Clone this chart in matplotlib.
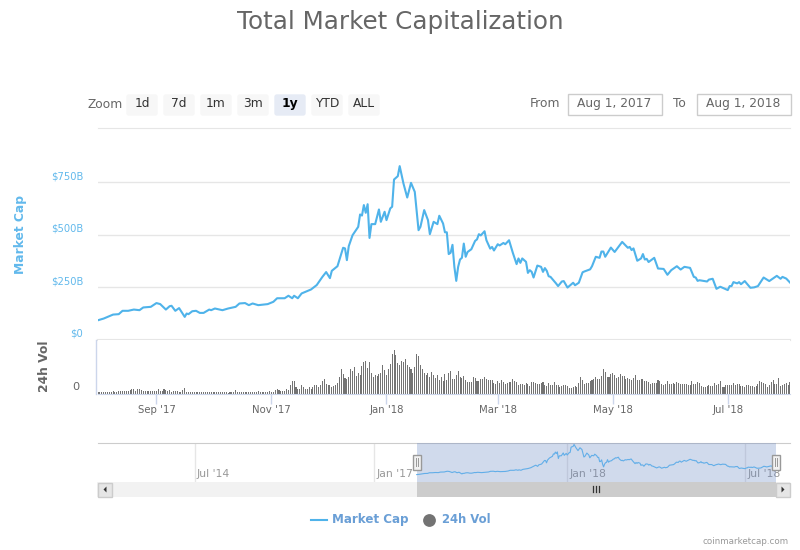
import numpy as np
import pandas as pd
import matplotlib
matplotlib.use("Agg")
import matplotlib.pyplot as plt
from matplotlib.patches import Rectangle, FancyBboxPatch, Polygon
from matplotlib.transforms import ScaledTranslation

W, H = 800, 550
start = pd.Timestamp("2017-08-01")

# days since Aug 1 2017, market cap in $B
cap_days = [0, 3, 8, 11, 13, 16, 19, 22, 24, 28, 31, 33, 36, 38, 39, 41, 43, 46, 47, 48, 50, 52, 54, 56, 59, 60, 62, 66, 69, 73,
            75, 78, 80, 82, 85, 90, 93, 95, 99, 101, 103, 104, 106, 108, 113, 116, 119, 121, 123, 124, 127, 130, 131, 132, 133, 135, 138, 139, 140, 141,
            142, 143, 144, 145, 147, 149, 150, 152, 153, 155, 156, 157, 159, 160, 162, 164, 166, 168, 170, 171, 173, 175, 176, 178, 180, 181, 183, 184, 185, 186,
            187, 188, 189, 190, 191, 192, 193, 194, 195, 196, 198, 200, 201, 202, 203, 205, 206, 208, 209, 210, 212, 213, 215, 216, 218, 220, 222, 223, 224, 225,
            227, 228, 229, 230, 231, 233, 235, 236, 237, 238, 239, 240, 243, 244, 246, 247, 249, 252, 253, 255, 257, 258, 261, 262, 264, 266, 267, 268, 269, 272,
            274, 278, 281, 282, 283, 284, 286, 288, 289, 290, 291, 292, 295, 297, 300, 302, 304, 307, 309, 311, 314, 316, 317, 318, 319, 323, 324, 326, 328, 330,
            334, 335, 336, 337, 339, 340, 341, 343, 344, 346, 348, 350, 353, 356, 360, 362, 363, 365, 367]
cap_values = [92, 100, 119, 121, 137, 137, 143, 140, 153, 156, 174, 169, 143, 159, 161, 137, 150, 108, 124, 121, 135, 137, 127, 127, 143, 140, 148, 140, 148, 156,
              172, 174, 164, 172, 164, 169, 180, 197, 197, 209, 197, 209, 197, 220, 239, 260, 299, 322, 293, 328, 350, 438, 435, 379, 446, 498, 538, 597, 592, 642,
              605, 646, 485, 551, 551, 621, 562, 610, 570, 626, 634, 764, 780, 828, 745, 678, 748, 705, 522, 538, 618, 570, 503, 562, 551, 591, 554, 512, 512, 408,
              414, 452, 347, 280, 347, 382, 390, 458, 395, 418, 431, 471, 478, 503, 497, 517, 474, 434, 442, 425, 455, 449, 461, 455, 474, 414, 360, 387, 366, 387,
              371, 318, 331, 323, 296, 353, 347, 323, 341, 328, 302, 299, 267, 255, 277, 279, 248, 271, 259, 271, 321, 325, 335, 350, 395, 390, 420, 420, 395, 439,
              418, 466, 438, 442, 427, 435, 376, 387, 408, 382, 385, 370, 390, 339, 337, 309, 331, 350, 334, 347, 342, 299, 296, 280, 283, 277, 286, 290, 242, 252,
              236, 255, 255, 274, 268, 274, 264, 279, 268, 247, 249, 255, 296, 279, 304, 290, 299, 291, 272]

# daily 24h volume in $B
vol_values = [1.5, 1.5, 1.5, 1.5, 1.5, 2.5, 1.5, 2, 4, 2.5, 2.5, 4, 4, 4, 4, 4, 3, 5, 7, 7, 4, 6.5, 6, 5.5, 4, 3, 3, 3, 4, 4, 4, 4,
              6.5, 4, 3, 6.5, 5, 4, 5.5, 1.5, 3, 3, 3, 2.5, 2.5, 5, 8, 1.5, 2.5, 2.5, 2.5, 1.5, 1.5, 1.5, 1.5, 1.5, 2.5, 2.5, 1.5, 1.5, 1.5,
              1.5, 1.5, 1.5, 2, 1.5, 1.5, 1.5, 1.5, 1, 2.5, 1.5, 1.5, 5, 2, 1.5, 2.5, 2.5, 2.5, 2.5, 1.5, 2.5, 1.5, 2.5, 1.5,
              4, 2.5, 1.5, 1.5, 1.5, 2.5, 4, 1.5, 2.5, 5, 6.5, 5, 3, 4, 4,
              7, 5, 12, 18, 18, 10, 6, 6, 12, 10, 6, 6, 9, 6, 9, 12, 12, 9, 12, 18, 21, 13.5, 12,
              12, 9, 11, 12, 15, 24, 36, 28.5, 22.5, 21, 24, 36, 33, 39, 25.5, 30, 27, 40.5, 46.5, 48, 37.5, 46.5, 30, 24, 27, 25.5,
              28.5, 30, 42, 34.5, 27, 36, 43.5, 58.5, 64.5, 57, 45, 42, 48, 46.5, 51, 42, 39, 36, 30, 39, 58.5, 55.5, 42, 36, 30, 27,
              30, 24, 31.5, 27, 22.5, 27, 19.5, 24, 18, 28.5, 19.5, 30, 33, 21, 21, 27, 33, 24, 22.5, 25.5, 19.5, 16.5, 16.5, 16.5, 24,
              22.5, 18, 18, 21, 21, 24, 21, 19.5, 19.5, 19.5, 15, 13.5, 18, 15, 19.5, 16.5, 13.5, 15, 16.5, 16.5, 21, 18, 16.5, 12, 13.5,
              13.5, 12, 15, 13.5, 10.5, 16.5, 16.5, 15, 13.5, 13.5, 15, 16.5, 12, 10.5, 15, 12, 12, 16.5, 12, 12, 9,
              10.5, 12, 12, 10.5, 7.5, 7.5, 9, 10.5, 9, 15, 24, 19.5, 13.5, 15, 15, 18, 19.5, 21, 24, 21, 21, 25.5, 36, 31.5, 24, 24,
              28.5, 30, 27, 22.5, 24, 28.5, 25.5, 25.5, 21, 22.5, 21, 19.5, 22.5, 27, 19.5, 19.5, 21, 21, 18, 18, 16.5, 13.5, 15, 15,
              15, 19.5, 18, 13.5, 12, 13.5, 18, 13.5, 13.5, 15, 13.5, 16.5, 15, 13.5, 13.5, 13.5, 13.5, 12, 12, 18, 13.5, 13.5, 16.5, 15,
              10.5, 9, 9, 10.5, 12, 10.5, 10.5, 15, 12, 13.5, 18, 9, 9, 12, 12, 12, 12, 15, 12, 13.5, 13.5, 10.5, 10.5, 9, 12, 12, 10.5,
              10.5, 9, 10.5, 13.5, 18, 16.5, 15, 13.5, 9, 12, 16.5, 19.5, 13.5, 13.5, 22.5, 10.5, 12, 13.5, 15, 12, 16.5]

tick_dates = ["2017-09-01", "2017-11-01", "2018-01-01", "2018-03-01", "2018-05-01", "2018-07-01"]
tick_labels = ["Sep '17", "Nov '17", "Jan '18", "Mar '18", "May '18", "Jul '18"]
cap_ticks = [0, 250, 500, 750]
cap_tick_labels = ["$0", "$250B", "$500B", "$750B"]

nav_tick_dates = ["2014-07-01", "2017-01-01", "2018-01-01", "2018-07-01"]
nav_tick_labels = ["Jul '14", "Jan '17", "Jan '18", "Jul '18"]
buttons = ["1d", "7d", "1m", "3m", "1y", "YTD", "ALL"]

BLUE = "#4fb3ea"
LABEL_BLUE = "#62b9ec"
GREY = "#666666"
AXIS = "#ccd6eb"
GRID = "#e6e6e6"
BAR = "#737373"
LEGEND = "#6a9fd6"


def px_axes(fig, x0, y0, x1, y1, **kw):
    return fig.add_axes([x0 / W, 1 - y1 / H, (x1 - x0) / W, (y1 - y0) / H], **kw)


def nav_pos(dates):
    # navigator axis is ordinal: older data is weekly so it gets squeezed
    anchors = pd.to_datetime(["2013-04-28", "2014-07-01", "2017-01-01", "2017-08-01", "2018-08-01", "2018-08-15"])
    return np.interp(pd.to_datetime(dates).astype("int64"), anchors.astype("int64"), [0, 97, 276, 318.7, 677.7, 692])


def nudge_up(labels, fig, px):
    for label in labels:
        label.set_transform(label.get_transform() + ScaledTranslation(0, px / 100, fig.dpi_scale_trans))


cap_dates = start + pd.to_timedelta(cap_days, unit="D")
vol_dates = start + pd.to_timedelta(np.arange(len(vol_values)), unit="D")
ticks = pd.to_datetime(tick_dates)
end = start + pd.Timedelta(days=367)

fig = plt.figure(figsize=(W / 100, H / 100), dpi=100)
plt.rcParams["font.family"] = "DejaVu Sans"

# market cap panel
ax = px_axes(fig, 98, 128, 790, 339.5)
ax.plot(cap_dates, cap_values, color=BLUE, lw=1.5, solid_joinstyle="round", zorder=3)
ax.set_xlim(start, end)
ax.set_ylim(0, 1010)
ax.set_yticks(cap_ticks)
ax.set_yticklabels(cap_tick_labels, color=LABEL_BLUE, fontsize=7.2, va="bottom")
ax.tick_params(axis="y", length=0, pad=10.8)
ax.tick_params(axis="x", bottom=False, labelbottom=False)
ax.grid(axis="y", color=GRID, lw=1)
ax.set_axisbelow(True)
for side in ["left", "right"]:
    ax.spines[side].set_visible(False)
ax.spines["top"].set_color(GRID)
ax.spines["bottom"].set_color(GRID)
ax.spines["bottom"].set_linewidth(1.5)
nudge_up(ax.get_yticklabels(), fig, 1)

# volume panel
ax_vol = px_axes(fig, 98, 340, 790, 393.5)
ax_vol.bar(vol_dates, vol_values, width=0.55, color=BAR, zorder=2)
ax_vol.set_xlim(start, end)
ax_vol.set_ylim(0, 80)
ax_vol.set_yticks([0])
ax_vol.set_yticklabels(["0"], color=GREY, fontsize=8.2, va="bottom")
ax_vol.tick_params(axis="y", length=0, pad=13)
ax_vol.set_xticks(ticks)
ax_vol.set_xticklabels(tick_labels, color=GREY, fontsize=7.3)
ax_vol.tick_params(axis="x", length=7, width=1, color=AXIS, pad=1.5)
for side in ["top", "right", "left"]:
    ax_vol.spines[side].set_visible(False)
ax_vol.spines["bottom"].set_color(AXIS)
nudge_up(ax_vol.get_yticklabels(), fig, 2)

# navigator
ax_nav = px_axes(fig, 98, 442.5, 790, 482)
ax_nav.set_xlim(0, 692)
ax_nav.set_ylim(-89, 876)
ax_nav.axvspan(nav_pos([start])[0], nav_pos([start + pd.Timedelta(days=365)])[0], color="#6685c2", alpha=0.3, lw=0, zorder=3)
ax_nav.plot(nav_pos(cap_dates), cap_values, color="#62aee8", lw=0.8, zorder=4)
nav_ticks = nav_pos(nav_tick_dates)
ax_nav.set_xticks(nav_ticks)
ax_nav.tick_params(axis="both", length=0, labelbottom=False, labelleft=False)
ax_nav.set_yticks([])
ax_nav.grid(axis="x", color=GRID, lw=1, zorder=1)
ax_nav.set_axisbelow(True)
for pos, label in zip(nav_ticks, nav_tick_labels):
    ax_nav.text(pos + 2, 109, label, color="#999999", fontsize=7.8, ha="left", va="center", zorder=2)
for side in ["left", "right", "bottom"]:
    ax_nav.spines[side].set_visible(False)
ax_nav.spines["top"].set_color("#cccccc")

# everything else is page furniture, drawn in pixel coords
ui = fig.add_axes([0, 0, 1, 1], zorder=10)
ui.set_xlim(0, W)
ui.set_ylim(H, 0)
ui.axis("off")
ui.patch.set_alpha(0)

ui.text(400, 22, "Total Market Capitalization", color=GREY, fontsize=17.75, ha="center", va="center")
ui.text(21, 235, "Market Cap", color=LABEL_BLUE, fontsize=8.8, rotation=90, ha="center", va="center", fontweight="bold")
ui.text(44, 366, "24h Vol", color=GREY, fontsize=8.8, rotation=90, ha="center", va="center", fontweight="bold")
ui.plot([95.8, 95.8], [340, 393.5], color=AXIS, lw=1)

ui.text(88, 104.5, "Zoom", color=GREY, fontsize=8.8, ha="left", va="center")
for i, name in enumerate(buttons):
    x0 = 126 + i * 37
    active = name == "1y"
    ui.add_patch(FancyBboxPatch((x0 + 1, 95), 30, 20, boxstyle="round,pad=0,rounding_size=2", mutation_aspect=1,
                                fc="#e6ebf5" if active else "#f7f7f7", ec="#e6ebf5" if active else "#f7f7f7", lw=1))
    ui.text(x0 + 16, 103.5, name, color="#000000" if active else "#333333", fontsize=8.8, ha="center", va="center",
            fontweight="bold" if active else "normal")

ui.text(530, 103.5, "From", color=GREY, fontsize=8.8, ha="left", va="center")
ui.text(673, 103.5, "To", color=GREY, fontsize=8.8, ha="left", va="center")
for x0, label in [(567.5, "Aug 1, 2017"), (696.5, "Aug 1, 2018")]:
    ui.add_patch(Rectangle((x0, 94), 94, 21, fc="white", ec="#cccccc", lw=1))
    ui.text(x0 + 47, 103.5, label, color=GREY, fontsize=8.8, ha="center", va="center")

# scrollbar
ui.add_patch(Rectangle((97, 482), 693, 15, fc="#f2f2f2", ec="none"))
ui.add_patch(Rectangle((417, 482), 359, 15, fc="#cccccc", ec="none"))
ui.add_patch(Rectangle((97.5, 482.5), 14, 14, fc="#e6e6e6", ec="#cccccc", lw=1))
ui.add_patch(Rectangle((776, 482.5), 14, 14, fc="#e6e6e6", ec="#cccccc", lw=1))
ui.add_patch(Polygon([(106.5, 486.5), (106.5, 492.5), (103.5, 489.5)], fc="#333333", ec="none"))
ui.add_patch(Polygon([(781.5, 486.5), (781.5, 492.5), (784.5, 489.5)], fc="#333333", ec="none"))
for x in [593, 596, 599]:
    ui.plot([x, x], [486, 492], color="#333333", lw=0.9)

# navigator handles
for x0 in [412.7, 771.7]:
    ui.add_patch(Rectangle((x0, 454.5), 8, 15, fc="#f2f2f2", ec="#999999", lw=1))
    ui.plot([x0 + 3, x0 + 3], [458, 466], color="#999999", lw=0.7)
    ui.plot([x0 + 5, x0 + 5], [458, 466], color="#999999", lw=0.7)

# legend
ui.plot([311, 327], [519.5, 519.5], color=BLUE, lw=1.5)
ui.text(332, 519.5, "Market Cap", color=LEGEND, fontsize=8.55, ha="left", va="center", fontweight="bold")
ui.scatter([428.7], [519.5], s=85, color=BAR, linewidths=0)
ui.text(441.5, 519.5, "24h Vol", color=LEGEND, fontsize=8.4, ha="left", va="center", fontweight="bold")
ui.text(789, 541, "coinmarketcap.com", color="#999999", fontsize=6.3, ha="right", va="center")

fig.savefig("out.png", dpi=100)
